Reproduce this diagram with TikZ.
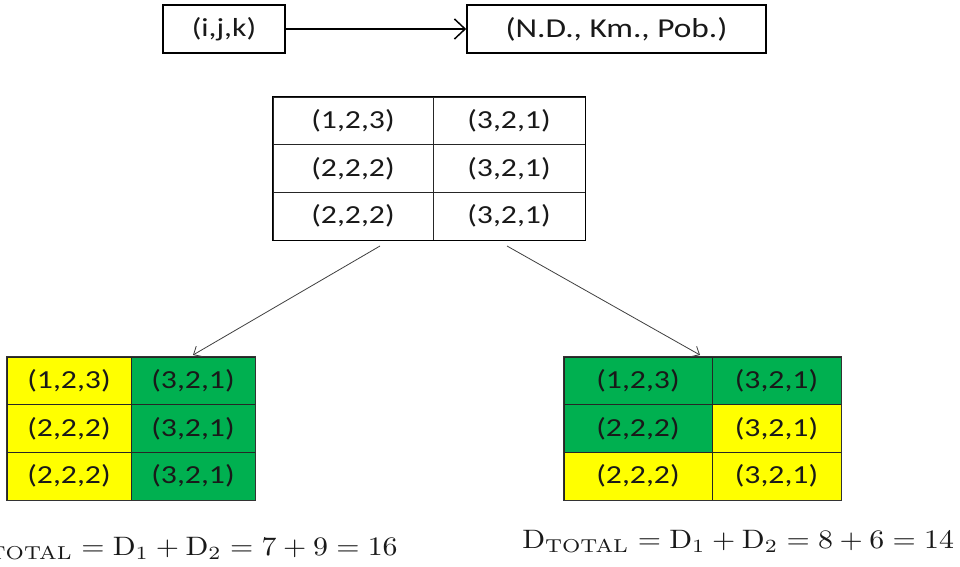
\documentclass[tikz,border=0pt]{standalone}
\usepackage[no-math]{fontspec}
\setmainfont{Carlito}[FakeStretch=1.22]
\usetikzlibrary{arrows.meta}
\definecolor{cyellow}{HTML}{FFFF00}
\definecolor{cgreen}{HTML}{00B050}
\newcommand\cellfont{\fontsize{19.5}{23}\selectfont}
\begin{document}
\begin{tikzpicture}[x=0.75pt,y=-0.75pt,
  cell/.style={draw=black!85, line width=0.6pt, minimum height=35.75pt, inner sep=0pt, font=\cellfont, text=black!90},
  topbox/.style={draw=black, line width=1.2pt, minimum height=36pt, inner sep=0pt, font=\cellfont, text=black!90},
  frame/.style={draw=black, line width=1.3pt},
  toparrow/.style={line width=1.1pt, -{Straight Barb[length=8pt,width=15pt,line width=1.1pt]}},
  downarrow/.style={draw=black!75, line width=0.6pt, -{Straight Barb[length=5pt,width=9pt,line width=0.6pt]}},
  ye/.style={fill=cyellow},
  gr/.style={fill=cgreen},
  formula/.style={inner sep=0pt, text=black!90}]
\clip (0,0) rectangle (960,567);
\fill[white] (0,0) rectangle (960,567);
% top boxes
\node[topbox, minimum width=91.5pt] (ijk) at (224,29) {(i,j,k)};
\node[topbox, minimum width=224.25pt, font=\fontsize{20.5}{24}\selectfont] (nd) at (616.5,29) {(N.D., Km., Pob.)};
\draw[toparrow] (ijk.east) -- (nd.west);
% middle table
\node[cell, minimum width=120pt] (m11) at (353,120.8) {(1,2,3)};
\node[cell, minimum width=114pt] (m12) at (509,120.8) {(3,2,1)};
\node[cell, minimum width=120pt] (m21) at (353,168.5) {(2,2,2)};
\node[cell, minimum width=114pt] (m22) at (509,168.5) {(3,2,1)};
\node[cell, minimum width=120pt] (m31) at (353,216.2) {(2,2,2)};
\node[cell, minimum width=114pt] (m32) at (509,216.2) {(3,2,1)};
\draw[frame] (m11.north west) rectangle (m32.south east);
% left table
\node[cell, ye, minimum width=93pt] (l11) at (69,380.8) {(1,2,3)};
\node[cell, gr, minimum width=93pt] (l12) at (193,380.8) {(3,2,1)};
\node[cell, ye, minimum width=93pt] (l21) at (69,428.5) {(2,2,2)};
\node[cell, gr, minimum width=93pt] (l22) at (193,428.5) {(3,2,1)};
\node[cell, ye, minimum width=93pt] (l31) at (69,476.2) {(2,2,2)};
\node[cell, gr, minimum width=93pt] (l32) at (193,476.2) {(3,2,1)};
\draw[draw=black!80, line width=1pt] (l11.north west) rectangle (l32.south east);
% right table
\node[cell, gr, minimum width=111pt] (r11) at (638,380.8) {(1,2,3)};
\node[cell, gr, minimum width=96.75pt] (r12) at (776.5,380.8) {(3,2,1)};
\node[cell, gr, minimum width=111pt] (r21) at (638,428.5) {(2,2,2)};
\node[cell, ye, minimum width=96.75pt] (r22) at (776.5,428.5) {(3,2,1)};
\node[cell, ye, minimum width=111pt] (r31) at (638,476.2) {(2,2,2)};
\node[cell, ye, minimum width=96.75pt] (r32) at (776.5,476.2) {(3,2,1)};
\draw[draw=black!80, line width=1pt] (r11.north west) rectangle (r32.south east);
% arrows
\coordinate (sa) at (380,246);
\coordinate (sb) at (507,246);
\coordinate (ea) at (193,355);
\coordinate (eb) at (700,355);
\draw[downarrow] (sa) -- (ea);
\draw[downarrow] (sb) -- (eb);
% formulas
\node[formula, anchor=base east] (fl) at (398,555)
  {\scalebox{2.24}[2.0]{$\mathrm{D}_{\mathrm{TOTAL}}=\mathrm{D}_1+\mathrm{D}_2=7+9=16$}};
\node[formula, anchor=base west] (fr) at (522,548)
  {\scalebox{2.24}[2.0]{$\mathrm{D}_{\mathrm{TOTAL}}=\mathrm{D}_1+\mathrm{D}_2=8+6=14$}};
\end{tikzpicture}
\end{document}
